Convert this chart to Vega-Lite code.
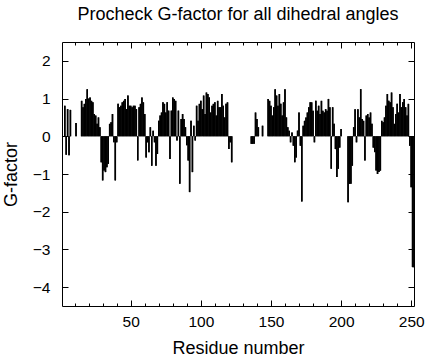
{
  "$schema": "https://vega.github.io/schema/vega-lite/v6.json",
  "width": 352,
  "height": 264,
  "autosize": "none",
  "padding": {"left": 62, "top": 42, "right": 17, "bottom": 54},
  "title": {"text": "Procheck G-factor for all dihedral angles", "font": "Liberation Sans", "fontSize": 18, "fontWeight": "normal", "color": "#000", "baseline": "alphabetic", "offset": 4},
  "data": {"values": [
    {"r":3,"g":0.81},{"r":4,"g":-0.49},{"r":5,"g":0.72},{"r":6,"g":-0.5},{"r":7,"g":0.7},{"r":11,"g":0.35},
    {"r":15,"g":0.94},{"r":16,"g":0.77},{"r":17,"g":0.86},{"r":18,"g":0.99},{"r":19,"g":1.25},{"r":20,"g":1.0},
    {"r":21,"g":1.03},{"r":22,"g":0.94},{"r":23,"g":0.9},{"r":24,"g":0.59},{"r":25,"g":0.55},{"r":26,"g":0.33},
    {"r":27,"g":0.5},{"r":28,"g":0.24},{"r":29,"g":-0.69},{"r":30,"g":-1.17},{"r":31,"g":-0.91},{"r":32,"g":-0.95},
    {"r":33,"g":-0.82},{"r":34,"g":-0.73},{"r":35,"g":0.33},{"r":36,"g":0.37},{"r":37,"g":0.59},{"r":38,"g":-0.16},
    {"r":39,"g":-1.17},{"r":40,"g":-0.16},{"r":41,"g":0.86},{"r":42,"g":0.77},{"r":43,"g":0.81},{"r":44,"g":0.9},
    {"r":45,"g":0.94},{"r":46,"g":0.99},{"r":47,"g":0.72},{"r":48,"g":1.08},{"r":49,"g":0.81},{"r":50,"g":0.81},
    {"r":51,"g":0.77},{"r":52,"g":0.81},{"r":53,"g":0.81},{"r":54,"g":0.72},{"r":55,"g":-0.64},{"r":56,"g":0.77},
    {"r":57,"g":0.86},{"r":58,"g":1.03},{"r":59,"g":0.9},{"r":60,"g":0.59},{"r":61,"g":-0.56},{"r":62,"g":-0.16},
    {"r":63,"g":-0.42},{"r":64,"g":0.24},{"r":65,"g":-0.78},{"r":66,"g":0.15},{"r":67,"g":-0.16},{"r":68,"g":-0.78},
    {"r":69,"g":-0.47},{"r":70,"g":0.41},{"r":71,"g":0.55},{"r":72,"g":0.63},{"r":73,"g":0.9},{"r":74,"g":0.86},
    {"r":75,"g":0.63},{"r":76,"g":0.9},{"r":77,"g":0.68},{"r":78,"g":-0.6},{"r":79,"g":0.68},{"r":80,"g":1.03},
    {"r":81,"g":0.99},{"r":82,"g":0.94},{"r":83,"g":-0.11},{"r":84,"g":0.68},{"r":85,"g":-1.26},{"r":86,"g":0.46},
    {"r":87,"g":0.59},{"r":88,"g":0.46},{"r":89,"g":0.24},{"r":90,"g":-0.24},{"r":91,"g":-0.64},{"r":92,"g":-1.48},
    {"r":93,"g":0.41},{"r":94,"g":-0.95},{"r":95,"g":0.28},{"r":96,"g":-0.11},{"r":97,"g":0.81},{"r":98,"g":0.41},
    {"r":99,"g":0.86},{"r":100,"g":0.94},{"r":101,"g":0.72},{"r":102,"g":1.08},{"r":103,"g":0.59},{"r":104,"g":1.16},
    {"r":105,"g":1.12},{"r":106,"g":1.03},{"r":107,"g":0.63},{"r":108,"g":0.81},{"r":109,"g":0.86},{"r":110,"g":0.9},
    {"r":111,"g":0.55},{"r":112,"g":0.94},{"r":113,"g":0.77},{"r":114,"g":0.77},{"r":115,"g":1.12},{"r":116,"g":0.81},
    {"r":117,"g":0.5},{"r":118,"g":0.86},{"r":119,"g":0.9},{"r":120,"g":-0.34},{"r":121,"g":-0.16},{"r":122,"g":-0.69},
    {"r":136,"g":-0.2},{"r":137,"g":-0.2},{"r":138,"g":-0.2},{"r":139,"g":0.63},{"r":140,"g":0.46},{"r":141,"g":0.24},
    {"r":144,"g":0.28},
    {"r":148,"g":0.99},{"r":149,"g":0.94},{"r":150,"g":0.81},{"r":151,"g":0.55},{"r":152,"g":0.77},{"r":153,"g":1.25},
    {"r":154,"g":1.08},{"r":155,"g":0.81},{"r":156,"g":1.12},{"r":157,"g":0.86},{"r":158,"g":0.55},{"r":159,"g":0.9},
    {"r":160,"g":1.25},{"r":161,"g":0.5},{"r":162,"g":0.24},{"r":163,"g":0.15},{"r":164,"g":-0.16},{"r":165,"g":0.1},
    {"r":166,"g":-0.25},{"r":167,"g":-0.69},{"r":168,"g":-0.56},{"r":169,"g":0.15},{"r":170,"g":0.63},{"r":171,"g":-0.25},
    {"r":172,"g":-1.73},{"r":173,"g":0.28},{"r":174,"g":0.41},{"r":175,"g":0.5},{"r":176,"g":0.63},{"r":177,"g":0.77},
    {"r":178,"g":0.9},{"r":179,"g":0.9},{"r":180,"g":0.68},{"r":181,"g":-0.16},{"r":182,"g":0.94},{"r":183,"g":0.68},
    {"r":184,"g":0.81},{"r":185,"g":0.59},{"r":186,"g":0.94},{"r":187,"g":0.68},{"r":188,"g":0.63},{"r":189,"g":0.72},
    {"r":190,"g":0.68},{"r":191,"g":0.99},{"r":192,"g":0.77},{"r":193,"g":-0.86},{"r":194,"g":0.77},{"r":195,"g":0.33},
    {"r":196,"g":-0.34},{"r":197,"g":-1.08},{"r":198,"g":-0.86},{"r":199,"g":-0.3},{"r":200,"g":0.19},
    {"r":205,"g":-1.75},{"r":206,"g":-1.26},{"r":207,"g":-1.26},{"r":208,"g":-0.78},{"r":209,"g":0.24},{"r":210,"g":0.72},
    {"r":211,"g":-0.16},{"r":212,"g":0.72},{"r":213,"g":0.5},{"r":214,"g":1.25},{"r":215,"g":0.46},{"r":216,"g":0.41},
    {"r":217,"g":-0.64},{"r":218,"g":0.55},{"r":219,"g":0.59},{"r":220,"g":0.5},{"r":221,"g":0.63},{"r":222,"g":0.33},
    {"r":223,"g":-0.3},{"r":224,"g":-0.42},{"r":225,"g":-0.91},{"r":226,"g":-1.0},{"r":227,"g":-0.95},{"r":228,"g":-0.91},
    {"r":229,"g":0.41},{"r":230,"g":0.37},{"r":231,"g":0.5},{"r":232,"g":0.81},{"r":233,"g":1.12},{"r":234,"g":0.94},
    {"r":235,"g":0.9},{"r":236,"g":1.16},{"r":237,"g":0.77},{"r":238,"g":0.33},{"r":239,"g":0.59},{"r":240,"g":0.86},
    {"r":241,"g":0.63},{"r":242,"g":1.12},{"r":243,"g":0.77},{"r":244,"g":0.9},{"r":245,"g":0.99},{"r":246,"g":0.77},
    {"r":247,"g":0.55},{"r":248,"g":0.86},{"r":249,"g":-0.25},{"r":250,"g":-1.35},{"r":251,"g":-3.47},{"r":252,"g":-3.47}
  ]},
  "layer": [
    {
      "mark": {"type": "rule", "color": "#000", "strokeWidth": 1.5},
      "encoding": {
        "x": {"field": "r", "type": "quantitative",
              "scale": {"domain": [1, 252], "nice": false, "zero": false},
              "axis": {"orient": "bottom", "title": "Residue number",
                       "values": [10,20,30,40,50,60,70,80,90,100,110,120,130,140,150,160,170,180,190,200,210,220,230,240,250],
                       "labelExpr": "datum.value % 50 === 0 ? datum.label : ''",
                       "tickSize": {"condition": {"test": "datum.value % 50 === 0", "value": -6}, "value": -3},
                       "labelPadding": 14, "titlePadding": 10}},
        "y": {"field": "g", "type": "quantitative",
              "scale": {"domain": [-4.5, 2.5], "nice": false},
              "axis": {"orient": "left", "title": "G-factor", "values": [-4,-3,-2,-1,0,1,2],
                       "tickSize": -6, "labelPadding": 18, "titlePadding": 12}},
        "y2": {"datum": 0}
      }
    },
    {
      "mark": {"type": "rule", "color": "#000", "strokeWidth": 1.5},
      "encoding": {
        "x": {"field": "r", "type": "quantitative",
              "axis": {"orient": "top", "title": null, "labels": false,
                       "values": [10,20,30,40,50,60,70,80,90,100,110,120,130,140,150,160,170,180,190,200,210,220,230,240,250],
                       "tickSize": {"condition": {"test": "datum.value % 50 === 0", "value": -6}, "value": -3}}},
        "y": {"field": "g", "type": "quantitative",
              "axis": {"orient": "right", "title": null, "labels": false, "values": [-4,-3,-2,-1,0,1,2], "tickSize": -6}},
        "y2": {"datum": 0}
      }
    }
  ],
  "resolve": {"axis": {"x": "independent", "y": "independent"}},
  "config": {
    "view": {"stroke": "#000", "strokeWidth": 1},
    "axis": {"grid": false, "domain": false, "tickColor": "#000", "tickWidth": 1,
             "labelFont": "Liberation Sans", "labelFontSize": 15.5, "labelColor": "#000",
             "titleFont": "Liberation Sans", "titleFontSize": 18, "titleFontWeight": "normal", "titleColor": "#000"}
  }
}
